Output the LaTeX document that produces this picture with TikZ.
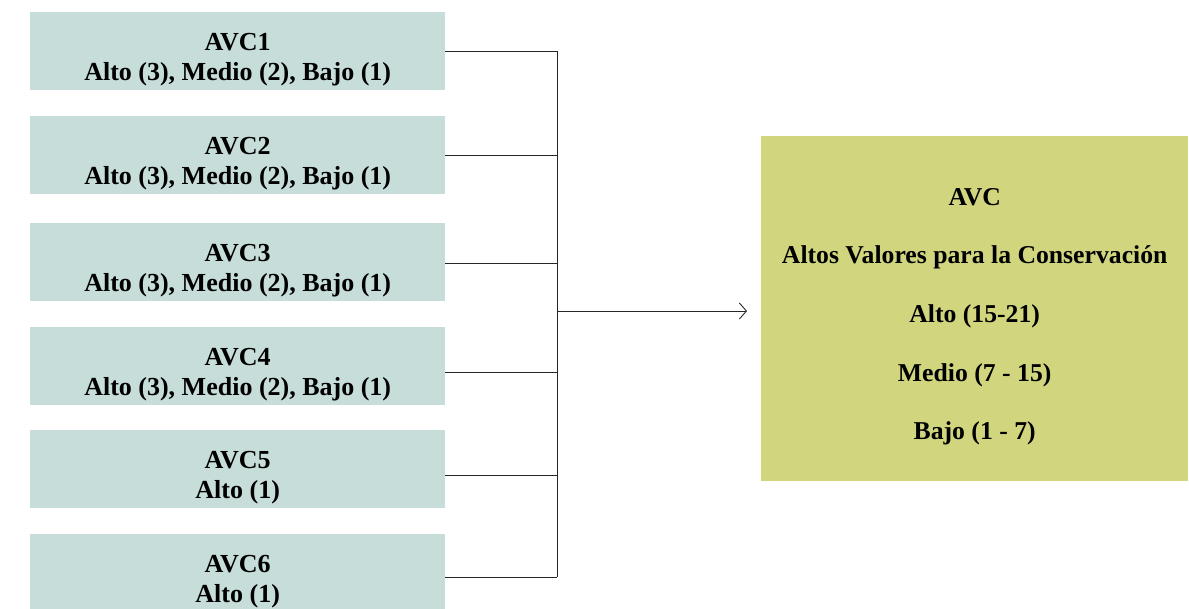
\documentclass[tikz,border=0pt]{standalone}
\usepackage{fontspec}
\setmainfont{Liberation Serif}
\usetikzlibrary{arrows.meta}
\definecolor{avcleft}{HTML}{C6DDDA}
\definecolor{avcright}{HTML}{D0D57E}
\tikzset{
  leftbox/.style={fill=avcleft, minimum width=415pt, minimum height=78pt, inner sep=0pt, anchor=north west},
  rightbox/.style={fill=avcright, minimum width=427pt, minimum height=345pt, inner sep=0pt, anchor=north west},
  lefttext/.style={align=center, inner sep=0pt, font=\fontsize{26}{30}\selectfont\bfseries},
  righttext/.style={align=center, inner sep=0pt, font=\fontsize{25.7}{58.7}\selectfont\bfseries},
  conn/.style={draw=black!85, line width=0.9pt},
}
\begin{document}
\begin{tikzpicture}[x=1pt,y=-1pt]
\useasboundingbox (0,0) rectangle (1189,608);
\node[leftbox] (b1) at (30,12)  {};
\node[leftbox] (b2) at (30,116) {};
\node[leftbox] (b3) at (30,223) {};
\node[leftbox] (b4) at (30,327) {};
\node[leftbox] (b5) at (30,430) {};
\node[leftbox] (b6) at (30,534) {};
\node[rightbox] (r) at (761,136) {};
\node[lefttext] (t1) at ([yshift=-8pt]b1.center) {AVC1\\Alto (3), Medio (2), Bajo (1)};
\node[lefttext] (t2) at ([yshift=-8pt]b2.center) {AVC2\\Alto (3), Medio (2), Bajo (1)};
\node[lefttext] (t3) at ([yshift=-8pt]b3.center) {AVC3\\Alto (3), Medio (2), Bajo (1)};
\node[lefttext] (t4) at ([yshift=-8pt]b4.center) {AVC4\\Alto (3), Medio (2), Bajo (1)};
\node[lefttext] (t5) at ([yshift=-8pt]b5.center) {AVC5\\Alto (1)};
\node[lefttext] (t6) at ([yshift=-8pt]b6.center) {AVC6\\Alto (1)};
\node[righttext] (rt) at ([yshift=-8pt]r.center) {AVC\\Altos Valores para la Conservación\\Alto (15-21)\\Medio (7 - 15)\\Bajo (1 - 7)};
\coordinate (top) at (557,51);
\coordinate (bot) at (557,577);
\coordinate (mid) at (557,311);
\draw[conn] (top -| b1.east) -- (top);
\draw[conn] (top) -- (bot);
\draw[conn] (bot -| b6.east) -- (bot);
\draw[conn] (b2.east) -- (b2.east -| top);
\draw[conn] ([yshift=-1pt]b3.east) -- ([yshift=-1pt]b3.east -| top);
\draw[conn] ([yshift=-6pt]b4.east) -- ([yshift=-6pt]b4.east -| top);
\draw[conn] ([yshift=-6pt]b5.east) -- ([yshift=-6pt]b5.east -| top);
\draw[conn, -{Straight Barb[length=7pt,width=16pt,line width=0.9pt]}] (mid) -- ([xshift=-14pt]r.west |- mid);
\end{tikzpicture}
\end{document}
